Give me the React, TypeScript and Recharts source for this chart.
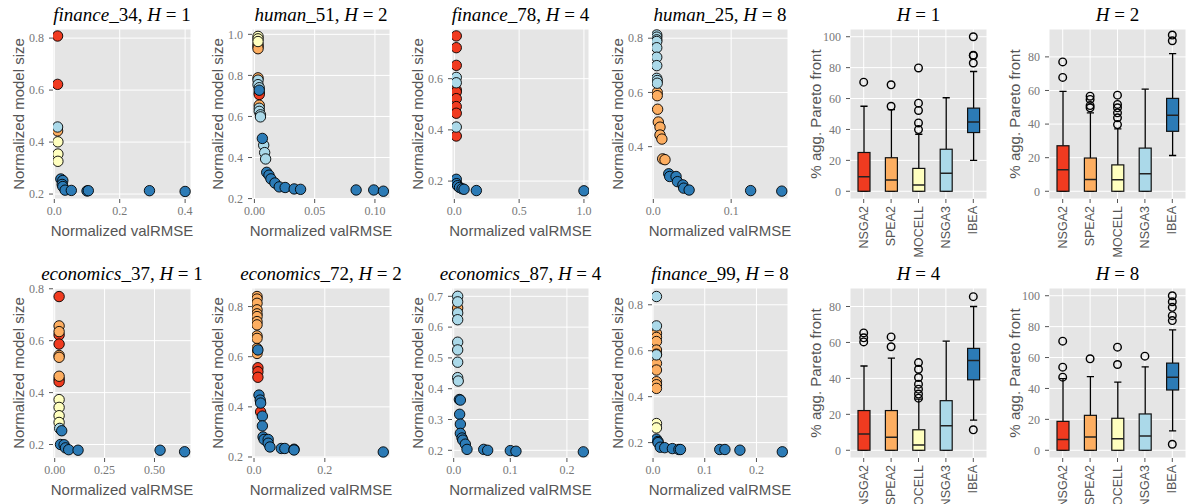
import React from 'react';
import { ScatterChart, ComposedChart, Scatter, Bar, XAxis, YAxis, CartesianGrid, Label } from 'recharts';

const ALGORITHMS = ['NSGA2', 'SPEA2', 'MOCELL', 'NSGA3', 'IBEA'];
const ALG_COLORS = ['#F03B20', '#FDAE61', '#FFFFBF', '#ABD9E9', '#2C7BB6'];

// [normalized valRMSE, normalized model size, algorithm index]
type Pt = [number, number, number];

const finance34: Pt[] = [
  [0.01, 0.808, 0], [0.01, 0.622, 0],
  [0.01, 0.443, 1],
  [0.011, 0.401, 2], [0.011, 0.354, 2], [0.011, 0.326, 2],
  [0.01, 0.458, 3],
  [0.02, 0.258, 4], [0.026, 0.252, 4], [0.024, 0.237, 4], [0.026, 0.229, 4], [0.033, 0.215, 4],
  [0.052, 0.214, 4], [0.1, 0.212, 4], [0.104, 0.213, 4], [0.291, 0.213, 4], [0.4, 0.21, 4],
];

const human51: Pt[] = [
  [0.004, 0.715, 0], [0.004, 0.707, 0],
  [0.003, 0.95, 1], [0.003, 0.94, 1], [0.003, 0.93, 1], [0.003, 0.788, 1], [0.004, 0.655, 1],
  [0.003, 0.99, 2], [0.003, 0.978, 2], [0.003, 0.965, 2],
  [0.003, 0.777, 3], [0.003, 0.755, 3], [0.004, 0.74, 3], [0.004, 0.64, 3], [0.004, 0.625, 3],
  [0.005, 0.608, 3], [0.005, 0.598, 3], [0.0077, 0.46, 3], [0.0085, 0.424, 3], [0.0093, 0.393, 3],
  [0.004, 0.728, 4], [0.0066, 0.493, 4], [0.0102, 0.328, 4], [0.0121, 0.314, 4], [0.0137, 0.296, 4],
  [0.017, 0.276, 4], [0.0206, 0.257, 4], [0.0255, 0.254, 4], [0.033, 0.247, 4], [0.0383, 0.245, 4],
  [0.0844, 0.242, 4], [0.099, 0.242, 4], [0.107, 0.236, 4],
];

const finance78: Pt[] = [
  [0.015, 0.767, 0], [0.015, 0.721, 0], [0.015, 0.652, 0], [0.015, 0.556, 0], [0.015, 0.548, 0],
  [0.015, 0.522, 0], [0.015, 0.491, 0], [0.015, 0.465, 0], [0.015, 0.376, 0],
  [0.015, 0.605, 3], [0.015, 0.584, 3], [0.015, 0.411, 3],
  [0.015, 0.207, 4], [0.018, 0.19, 4], [0.025, 0.182, 4], [0.04, 0.175, 4], [0.06, 0.17, 4],
  [0.075, 0.168, 4], [0.17, 0.163, 4], [1.0, 0.162, 4],
];

const human25: Pt[] = [
  [0.005, 0.6, 1], [0.005, 0.588, 1], [0.0055, 0.538, 1], [0.0064, 0.491, 1], [0.0086, 0.472, 1],
  [0.0086, 0.443, 1], [0.011, 0.428, 1], [0.012, 0.355, 1], [0.015, 0.352, 1],
  [0.0044, 0.812, 3], [0.0044, 0.804, 3], [0.0044, 0.794, 3], [0.0044, 0.788, 3], [0.0044, 0.765, 3],
  [0.0044, 0.73, 3], [0.0044, 0.699, 3], [0.0044, 0.652, 3], [0.005, 0.644, 3], [0.005, 0.634, 3],
  [0.0198, 0.3, 4], [0.021, 0.29, 4], [0.0292, 0.29, 4], [0.031, 0.271, 4], [0.038, 0.259, 4],
  [0.039, 0.247, 4], [0.046, 0.24, 4], [0.125, 0.238, 4], [0.165, 0.236, 4],
];

const economics37: Pt[] = [
  [0.022, 0.77, 0], [0.022, 0.622, 0], [0.022, 0.587, 0], [0.022, 0.452, 0], [0.022, 0.442, 0],
  [0.022, 0.657, 1], [0.022, 0.635, 1], [0.022, 0.543, 1], [0.022, 0.536, 1], [0.022, 0.463, 1],
  [0.022, 0.373, 2], [0.022, 0.343, 2], [0.022, 0.311, 2], [0.022, 0.285, 2],
  [0.025, 0.262, 3],
  [0.035, 0.253, 4], [0.029, 0.2, 4], [0.047, 0.199, 4], [0.054, 0.187, 4], [0.07, 0.18, 4],
  [0.117, 0.178, 4], [0.528, 0.178, 4], [0.651, 0.172, 4],
];

const economics72: Pt[] = [
  [0.011, 0.556, 0], [0.011, 0.54, 0], [0.011, 0.518, 0], [0.0187, 0.38, 0],
  [0.0085, 0.84, 1], [0.0085, 0.83, 1], [0.0085, 0.813, 1], [0.0085, 0.787, 1], [0.0085, 0.771, 1],
  [0.0085, 0.76, 1], [0.0085, 0.74, 1], [0.0085, 0.727, 1], [0.0085, 0.683, 1], [0.0085, 0.673, 1],
  [0.0085, 0.633, 1], [0.0085, 0.613, 1],
  [0.011, 0.627, 4], [0.014, 0.447, 4], [0.0175, 0.427, 4], [0.0187, 0.415, 4], [0.0236, 0.363, 4],
  [0.0236, 0.324, 4], [0.0255, 0.28, 4], [0.0285, 0.27, 4], [0.04, 0.27, 4], [0.04, 0.255, 4],
  [0.045, 0.24, 4], [0.077, 0.234, 4], [0.087, 0.234, 4], [0.113, 0.231, 4], [0.113, 0.228, 4],
  [0.365, 0.22, 4],
];

const economics87: Pt[] = [
  [0.007, 0.662, 1],
  [0.007, 0.7, 3], [0.007, 0.682, 3], [0.007, 0.646, 3], [0.007, 0.624, 3], [0.007, 0.551, 3],
  [0.007, 0.526, 3], [0.007, 0.486, 3], [0.007, 0.436, 3], [0.008, 0.425, 3],
  [0.01, 0.365, 4], [0.0118, 0.363, 4], [0.0105, 0.317, 4], [0.0118, 0.285, 4], [0.0118, 0.255, 4],
  [0.0147, 0.24, 4], [0.016, 0.233, 4], [0.0206, 0.22, 4], [0.0235, 0.203, 4], [0.053, 0.203, 4],
  [0.06, 0.2, 4], [0.1, 0.199, 4], [0.11, 0.197, 4], [0.229, 0.195, 4],
];

const finance99: Pt[] = [
  [0.0066, 0.676, 1], [0.0066, 0.658, 1], [0.0066, 0.64, 1], [0.0066, 0.603, 1], [0.0066, 0.585, 1],
  [0.0066, 0.545, 1], [0.0066, 0.516, 1], [0.0066, 0.465, 1], [0.0066, 0.452, 1], [0.0066, 0.436, 1],
  [0.0066, 0.283, 2], [0.0066, 0.264, 2],
  [0.0066, 0.836, 3], [0.0066, 0.708, 3], [0.0066, 0.582, 3],
  [0.0066, 0.215, 4], [0.0097, 0.205, 4], [0.0097, 0.2, 4], [0.014, 0.18, 4], [0.0226, 0.178, 4],
  [0.0374, 0.174, 4], [0.05, 0.17, 4], [0.053, 0.17, 4], [0.129, 0.17, 4], [0.139, 0.17, 4],
  [0.168, 0.167, 4], [0.25, 0.16, 4],
];

// box stats per algorithm: [whisker low, Q1, median, Q3, whisker high]
const boxH1 = [
  [0, 0, 9.4, 25.1, 55], [0, 0, 7.3, 21.7, 52.8], [0, 0, 4, 14.8, 36.9], [0, 0, 11.6, 27.2, 60.5], [20, 38, 44.8, 53.8, 77.5],
];
const outH1 = [[70.6], [55, 68.9], [39.9, 44.2, 52.3, 57, 79.8], [], [83, 87.8, 88, 100]];

const boxH2 = [
  [0, 0, 12.8, 27.1, 59.5], [0, 0, 7, 19.8, 46.7], [0, 0, 6.8, 15.7, 37.1], [0, 0, 10.4, 25.7, 60.8], [21.3, 35.7, 45.3, 55.3, 82],
];
const outH2 = [[67.8, 77], [49.7, 51, 54.7, 56.6], [39.7, 43.7, 46.7, 49.7, 51.7, 57.2], [], [89.6, 93]];

const boxH4 = [
  [0, 0, 9, 22.1, 46.9], [0, 0, 7.2, 22.1, 51.3], [0, 0, 3, 11.4, 28.5], [0, 0, 13.6, 27.6, 60.7], [16.8, 39.2, 50, 56.7, 80],
];
const outH4 = [[60.3, 62.6, 65.3], [57.6, 63.1], [29, 31.3, 34, 36.8, 40.5, 45.1, 48.8], [], [11.4, 85.5]];

const boxH8 = [
  [0, 0, 6.9, 18.7, 46.3], [0, 0, 8.6, 22.6, 47.7], [0, 0, 7.5, 20.7, 44.1], [0, 0, 9.3, 23.5, 54], [12.5, 39, 47.3, 56.4, 77.9],
];
const outH8 = [[47.3, 53.8, 70.6], [59.2], [55.5, 66.7], [60.9], [3.9, 83.9, 87.1, 92.5, 96.1, 100]];

// ---------- layout ----------
const COL_LEFT = [53, 252, 452, 652, 850, 1049];
const COL_W = [138, 138, 137, 136, 137, 137];
const ROW_TOP = [29, 288];
const PLOT_H = 170;
const AX_W = 60;
const AX_H = 50;
const PAD_TOP = 5;

const SERIF = "'Liberation Serif', 'Times New Roman', serif";
const SANS = "'Liberation Sans', Arial, Helvetica, sans-serif";

const SCATTER_PANELS = [
  { set: 'finance', num: '34', h: 1, pts: finance34, col: 0, row: 0, xDom: [-0.004, 0.418], yDom: [0.181, 0.835], xTicks: [0, 0.2, 0.4], yTicks: [0.2, 0.4, 0.6, 0.8], xDec: 1 },
  { set: 'human', num: '51', h: 2, pts: human51, col: 1, row: 0, xDom: [-0.002, 0.1125], yDom: [0.198, 1.026], xTicks: [0, 0.05, 0.1], yTicks: [0.2, 0.4, 0.6, 0.8, 1.0], xDec: 2 },
  { set: 'finance', num: '78', h: 4, pts: finance78, col: 2, row: 0, xDom: [-0.018, 1.039], yDom: [0.13, 0.794], xTicks: [0, 0.5, 1], yTicks: [0.2, 0.4, 0.6], xDec: 1 },
  { set: 'human', num: '25', h: 8, pts: human25, col: 3, row: 0, xDom: [-0.0017, 0.173], yDom: [0.207, 0.834], xTicks: [0, 0.1], yTicks: [0.4, 0.6, 0.8], xDec: 1 },
  { set: 'economics', num: '37', h: 1, pts: economics37, col: 0, row: 1, xDom: [-0.0086, 0.683], yDom: [0.148, 0.803], xTicks: [0, 0.25, 0.5], yTicks: [0.2, 0.4, 0.6, 0.8], xDec: 2 },
  { set: 'economics', num: '72', h: 2, pts: economics72, col: 1, row: 1, xDom: [-0.0057, 0.384], yDom: [0.196, 0.874], xTicks: [0, 0.2], yTicks: [0.2, 0.4, 0.6, 0.8], xDec: 1 },
  { set: 'economics', num: '87', h: 4, pts: economics87, col: 2, row: 1, xDom: [-0.003, 0.239], yDom: [0.175, 0.727], xTicks: [0, 0.1, 0.2], yTicks: [0.2, 0.3, 0.4, 0.5, 0.6, 0.7], xDec: 1 },
  { set: 'finance', num: '99', h: 8, pts: finance99, col: 3, row: 1, xDom: [-0.002, 0.261], yDom: [0.133, 0.873], xTicks: [0, 0.1, 0.2], yTicks: [0.2, 0.4, 0.6, 0.8], xDec: 1 },
];

const BOX_PANELS = [
  { h: 1, stats: boxH1, outliers: outH1, col: 4, row: 0, yDom: [-5, 105], yTicks: [0, 20, 40, 60, 80, 100] },
  { h: 2, stats: boxH2, outliers: outH2, col: 5, row: 0, yDom: [-4.6, 96.6], yTicks: [0, 20, 40, 60, 80] },
  { h: 4, stats: boxH4, outliers: outH4, col: 4, row: 1, yDom: [-4.3, 90.3], yTicks: [0, 20, 40, 60, 80] },
  { h: 8, stats: boxH8, outliers: outH8, col: 5, row: 1, yDom: [-5, 105], yTicks: [0, 20, 40, 60, 80, 100] },
];

const TICK_STYLE = { fill: '#777', fontSize: 12, fontFamily: SERIF };

const xLabel = (text: string) => (props: any) => {
  const vb = props.viewBox;
  return (
    <text x={vb.x + vb.width / 2} y={vb.y + 31} textAnchor="middle" dominantBaseline="central" fill="#555" fontSize={15} fontFamily={SANS}>
      {text}
    </text>
  );
};

const yLabel = (text: string) => (props: any) => {
  const vb = props.viewBox;
  const x = vb.x + vb.width - 35;
  const y = vb.y + vb.height / 2;
  return (
    <text x={x} y={y} transform={`rotate(-90, ${x}, ${y})`} textAnchor="middle" dominantBaseline="central" fill="#555" fontSize={15} fontFamily={SANS}>
      {text}
    </text>
  );
};

function ScatterPanel({ p }: { p: any }) {
  const w = COL_W[p.col];
  const right = 6;
  return (
    <div style={{ position: 'absolute', left: COL_LEFT[p.col] - AX_W, top: ROW_TOP[p.row] - PAD_TOP }}>
      <ScatterChart width={AX_W + w + right} height={PAD_TOP + PLOT_H + AX_H} margin={{ top: PAD_TOP, right, bottom: 0, left: 0 }}>
        <CartesianGrid fill="#E5E5E5" stroke="#FFFFFF" strokeWidth={1} />
        <XAxis type="number" dataKey="x" domain={p.xDom} ticks={p.xTicks} allowDataOverflow interval={0} height={AX_H}
          tickSize={4} tickMargin={3} axisLine={false} tickLine={{ stroke: '#555' }} tick={TICK_STYLE}
          tickFormatter={(v: number) => v.toFixed(p.xDec)}>
          <Label content={xLabel('Normalized valRMSE')} />
        </XAxis>
        <YAxis type="number" dataKey="y" domain={p.yDom} ticks={p.yTicks} allowDataOverflow interval={0} width={AX_W}
          tickSize={4} tickMargin={5} axisLine={false} tickLine={{ stroke: '#555' }} tick={TICK_STYLE}
          tickFormatter={(v: number) => v.toFixed(1)}>
          <Label content={yLabel('Normalized model size')} />
        </YAxis>
        {ALGORITHMS.map((a, k) => (
          <Scatter key={a} name={a} isAnimationActive={false}
            data={p.pts.filter((q: Pt) => q[2] === k).map((q: Pt) => ({ x: q[0], y: q[1] }))}
            fill={ALG_COLORS[k]}
            shape={(sp: any) => <circle cx={sp.cx} cy={sp.cy} r={5.2} fill={ALG_COLORS[k]} stroke="#000" strokeWidth={0.9} />} />
        ))}
      </ScatterChart>
    </div>
  );
}

const boxShape = (props: any) => {
  const { x, y, width, height, payload } = props;
  if (x == null || y == null) return <g />;
  const top = Math.min(y, y + height);
  const bot = Math.max(y, y + height);
  const ppu = (bot - top) / (payload.q3 - payload.q1);
  const py = (v: number) => bot - (v - payload.q1) * ppu;
  const cx = x + width / 2;
  const cap = width * 0.3;
  const hiY = py(payload.hi);
  const loY = py(payload.lo);
  const medY = py(payload.med);
  return (
    <g>
      <line x1={cx} x2={cx} y1={hiY} y2={top} stroke="#000" strokeWidth={1.3} />
      <line x1={cx} x2={cx} y1={bot} y2={loY} stroke="#000" strokeWidth={1.3} />
      <line x1={cx - cap} x2={cx + cap} y1={hiY} y2={hiY} stroke="#000" strokeWidth={1.3} />
      <line x1={cx - cap} x2={cx + cap} y1={loY} y2={loY} stroke="#000" strokeWidth={1.3} />
      <rect x={x} y={top} width={width} height={bot - top} fill={payload.color} stroke="#111" strokeWidth={1.2} />
      <line x1={x} x2={x + width} y1={medY} y2={medY} stroke="#222" strokeWidth={1.5} />
    </g>
  );
};

const CatTick = (props: any) => {
  const { x, y, payload } = props;
  return (
    <text x={x} y={y} transform={`rotate(-90, ${x}, ${y})`} textAnchor="end" dominantBaseline="central" fill="#555" fontSize={12.5} fontFamily={SANS}>
      {payload.value}
    </text>
  );
};

function BoxPanel({ b }: { b: any }) {
  const w = COL_W[b.col];
  const right = Math.max(0, Math.min(6, 1186 - (COL_LEFT[b.col] + w)));
  const rows = ALGORITHMS.map((name, i) => {
    const [lo, q1, med, q3, hi] = b.stats[i];
    return { name, lo, q1, med, q3, hi, box: [q1, q3], color: ALG_COLORS[i] };
  });
  const outs = b.outliers.flatMap((list: number[], i: number) => list.map((v) => ({ i, v })));
  return (
    <div style={{ position: 'absolute', left: COL_LEFT[b.col] - AX_W, top: ROW_TOP[b.row] - PAD_TOP }}>
      <ComposedChart width={AX_W + w + right} height={PAD_TOP + PLOT_H + AX_H + 30} data={rows} margin={{ top: PAD_TOP, right, bottom: 30, left: 0 }}>
        <CartesianGrid fill="#E5E5E5" stroke="#FFFFFF" strokeWidth={1} />
        <XAxis dataKey="name" type="category" height={AX_H} interval={0} tickSize={4} tickMargin={3} axisLine={false}
          tickLine={{ stroke: '#555' }} tick={<CatTick />} />
        <XAxis xAxisId="n" dataKey="i" type="number" domain={[-0.5, ALGORITHMS.length - 0.5]} allowDataOverflow hide />
        <YAxis type="number" domain={b.yDom} ticks={b.yTicks} allowDataOverflow interval={0} width={AX_W}
          tickSize={4} tickMargin={5} axisLine={false} tickLine={{ stroke: '#555' }} tick={TICK_STYLE}
          tickFormatter={(v: number) => String(v)}>
          <Label content={yLabel('% agg. Pareto front')} />
        </YAxis>
        <Bar dataKey="box" barSize={12} shape={boxShape} isAnimationActive={false} />
        <Scatter xAxisId="n" data={outs} dataKey="v" isAnimationActive={false}
          shape={(sp: any) => <circle cx={sp.cx} cy={sp.cy} r={3.8} fill="none" stroke="#000" strokeWidth={1.4} />} />
      </ComposedChart>
    </div>
  );
}

function Titles() {
  return (
    <svg width={1186} height={504} style={{ position: 'absolute', left: 0, top: 0, pointerEvents: 'none' }}>
      {SCATTER_PANELS.map((p, i) => (
        <text key={'s' + i} x={COL_LEFT[p.col] + COL_W[p.col] / 2} y={ROW_TOP[p.row] - 8} textAnchor="middle" fontFamily={SERIF} fontSize={19} fill="#000">
          <tspan fontStyle="italic">{p.set}</tspan>
          <tspan>{'_' + p.num + ', '}</tspan>
          <tspan fontStyle="italic">H</tspan>
          <tspan>{' = ' + p.h}</tspan>
        </text>
      ))}
      {BOX_PANELS.map((b, i) => (
        <text key={'b' + i} x={COL_LEFT[b.col] + COL_W[b.col] / 2} y={ROW_TOP[b.row] - 8} textAnchor="middle" fontFamily={SERIF} fontSize={19} fill="#000">
          <tspan fontStyle="italic">H</tspan>
          <tspan>{' = ' + b.h}</tspan>
        </text>
      ))}
    </svg>
  );
}

export default function App() {
  return (
    <div style={{ position: 'absolute', left: 0, top: 0, width: 1186, height: 504, overflow: 'hidden', background: '#fff' }}>
      {SCATTER_PANELS.map((p, i) => <ScatterPanel key={i} p={p} />)}
      {BOX_PANELS.map((b, i) => <BoxPanel key={i} b={b} />)}
      <Titles />
    </div>
  );
}
